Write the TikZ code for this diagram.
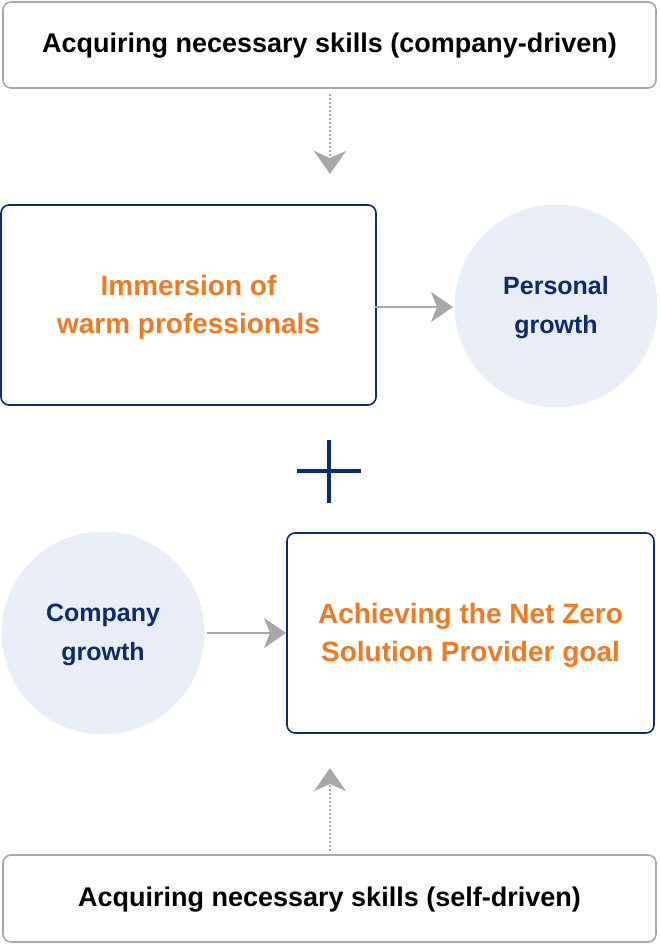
\documentclass[tikz,border=0pt]{standalone}
\usepackage{fontspec}
\setmainfont{Liberation Sans}
\usetikzlibrary{arrows.meta}
\definecolor{navy}{HTML}{0B2A70}
\definecolor{orng}{HTML}{F07A22}
\definecolor{gline}{HTML}{A8A8A8}
\definecolor{cfill}{HTML}{E8EDF6}
\tikzset{
  greybox/.style={draw=gline, line width=1.6pt, rounded corners=8pt, fill=white},
  navybox/.style={draw=navy, line width=1.6pt, rounded corners=8pt, fill=white},
  circ/.style={circle, fill=cfill, minimum size=203pt, inner sep=0pt},
  blk/.style={font=\bfseries\fontsize{27}{32}\selectfont, text=black},
  orgtxt/.style={font=\bfseries\fontsize{28}{38}\selectfont, text=orng, align=center},
  navytxt/.style={font=\bfseries\fontsize{25}{39}\selectfont, text=navy, align=center},
  dotarrow/.style={draw=gline, line width=2.4pt, dash pattern=on 2.4pt off 1.6pt, -{Stealth[length=23pt,width=32pt,inset=7pt,fill=gline]}},
  solarrow/.style={draw=gline, line width=2pt, -{Stealth[length=22pt,width=30pt,inset=6pt,fill=gline]}},
}
\begin{document}
\begin{tikzpicture}[x=1pt,y=-1pt]
\useasboundingbox (0,0) rectangle (659,944);
% top box
\draw[greybox] (3,2) rectangle (656,88);
\node[blk] (top) at (329.5,46) {Acquiring necessary skills (company-driven)};
\coordinate (topb) at (330,94);
\coordinate (topt) at (330,174);
\draw[dotarrow] (topb) -- (topt);
% immersion box
\draw[navybox] (1,205) rectangle (376,405);
\node[orgtxt] (imm) at (188.5,307) {Immersion of\\warm professionals};
\node[circ] (pg) at (556,306) {};
\node[navytxt] (pgt) at (556,308) {Personal\\growth};
\coordinate (a1s) at (375,307);
\coordinate (a1e) at (453,307);
\draw[solarrow] (a1s) -- (a1e);
% plus
\coordinate (pc) at (329,471);
\draw[navy, line width=4pt] (297,471) -- (361,471);
\draw[navy, line width=4pt] (329,440) -- (329,503);
% company growth
\node[circ] (cg) at (103,633) {};
\node[navytxt] (cgt) at (103,635) {Company\\growth};
\draw[navybox] (287,533) rectangle (654,733);
\node[orgtxt] (ach) at (470.5,635) {Achieving the Net Zero\\Solution Provider goal};
\coordinate (a2s) at (207,633);
\coordinate (a2e) at (286,633);
\draw[solarrow] (a2s) -- (a2e);
% bottom box
\draw[greybox] (3,855) rectangle (656,942);
\node[blk] (bot) at (329.5,900) {Acquiring necessary skills (self-driven)};
\coordinate (botb) at (330,851);
\coordinate (bott) at (330,768);
\draw[dotarrow] (botb) -- (bott);
\end{tikzpicture}
\end{document}
